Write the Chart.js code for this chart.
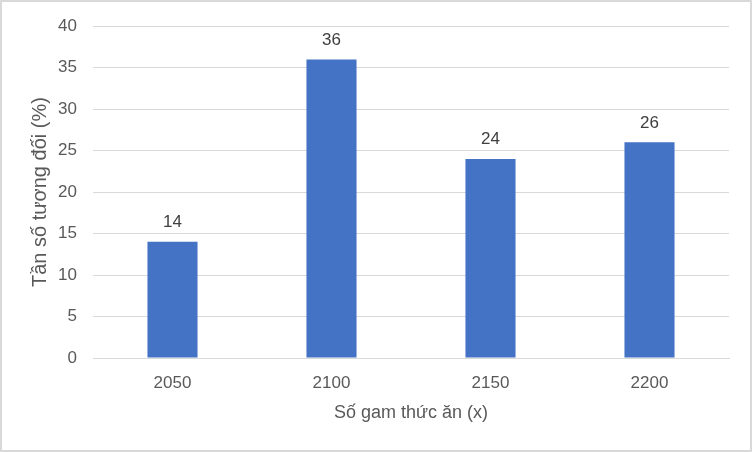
<!DOCTYPE html>
<html>
<head>
<meta charset="utf-8">
<script src="https://cdn.jsdelivr.net/npm/chart.js@4"></script>
<style>
  body { margin: 0; background: #fff; }
  #wrap { position: relative; width: 752px; height: 452px; }
  #frame { position: absolute; left: 0; top: 0; width: 752px; height: 452px; box-sizing: border-box; border: 2px solid #d9d9d9; pointer-events: none; }
</style>
</head>
<body>
<div id="wrap">
  <canvas id="chart" width="752" height="452"></canvas>
  <div id="frame"></div>
</div>
<script>
const categories = ['2050', '2100', '2150', '2200'];
const frequencies = [14, 36, 24, 26];
const xTitle = 'Số gam thức ăn (x)';
const yTitle = 'Tần số tương đối (%)';

const fontFamily = '"Liberation Sans", "DejaVu Sans", sans-serif';

// write the value above each bar
const valueLabels = {
  id: 'valueLabels',
  afterDatasetsDraw(chart) {
    const ctx = chart.ctx;
    const meta = chart.getDatasetMeta(0);
    ctx.save();
    ctx.font = '17px ' + fontFamily;
    ctx.fillStyle = '#404040';
    ctx.textAlign = 'center';
    ctx.textBaseline = 'bottom';
    meta.data.forEach((bar, i) => {
      ctx.fillText(String(frequencies[i]), bar.x, bar.y - 11);
    });
    ctx.restore();
  }
};

new Chart(document.getElementById('chart'), {
  type: 'bar',
  data: {
    labels: categories,
    datasets: [{
      data: frequencies,
      backgroundColor: '#4472c4',
      borderWidth: 0,
      categoryPercentage: 1,
      barPercentage: 0.315
    }]
  },
  options: {
    responsive: false,
    animation: false,
    layout: { padding: { left: 0, right: 23, top: 23, bottom: 0 } },
    plugins: {
      legend: { display: false },
      tooltip: { enabled: false }
    },
    scales: {
      x: {
        grid: { display: false, drawTicks: false },
        border: { display: true, color: '#d9d9d9', width: 1 },
        ticks: { color: '#595959', padding: 15, font: { size: 17, family: fontFamily } },
        title: {
          display: true,
          text: xTitle,
          color: '#595959',
          font: { size: 18, family: fontFamily },
          padding: { top: 0, bottom: 28 }
        },
        afterFit: s => { s.height = 94; }
      },
      y: {
        min: 0,
        max: 40,
        ticks: { stepSize: 5, color: '#595959', padding: 16, font: { size: 17, family: fontFamily } },
        grid: { color: '#d9d9d9', drawTicks: false },
        border: { display: false },
        title: {
          display: true,
          text: yTitle,
          color: '#595959',
          font: { size: 20, family: fontFamily },
          padding: { top: 28, bottom: 0 }
        },
        afterFit: s => { s.width = 93; }
      }
    }
  },
  plugins: [valueLabels]
});
</script>
</body>
</html>
